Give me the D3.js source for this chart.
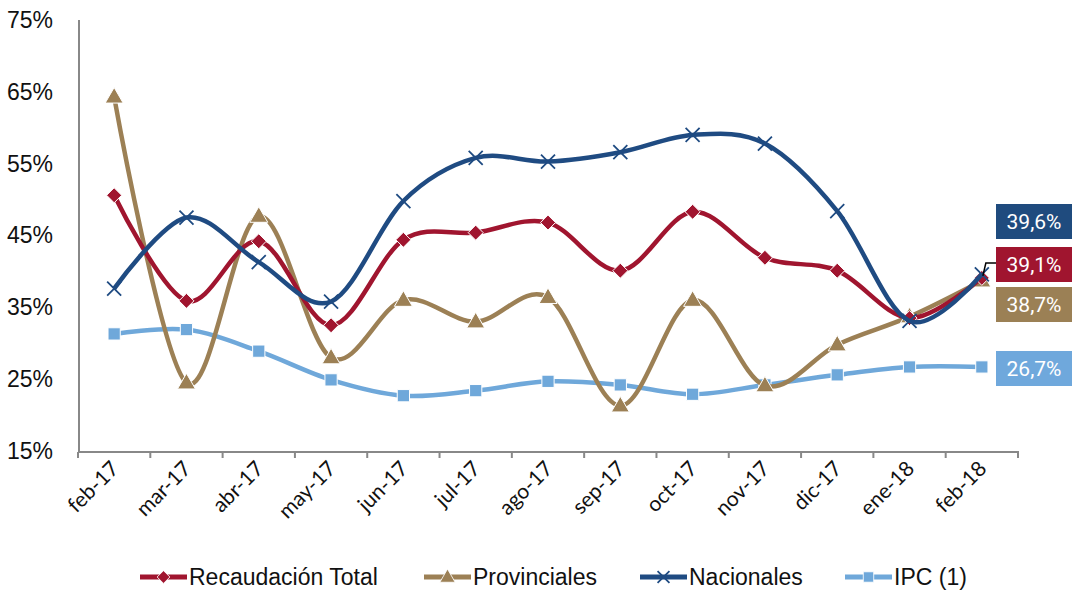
<!DOCTYPE html>
<html lang="es">
<head>
<meta charset="utf-8">
<title>Recaudación</title>
<script src="https://d3js.org/d3.v7.min.js"></script>
<style>
  body { margin: 0; background: #fff; }
  svg { display: block; }
</style>
</head>
<body>
<div id="chart"></div>
<script>
// datos (variación interanual, %)
var months = ["feb-17","mar-17","abr-17","may-17","jun-17","jul-17","ago-17","sep-17","oct-17","nov-17","dic-17","ene-18","feb-18"];
var recaudacion = [50.6, 35.9, 44.2, 32.5, 44.4, 45.4, 46.8, 40.1, 48.3, 41.9, 40.1, 33.5, 39.1];
var provinciales = [64.3, 24.5, 47.7, 28.0, 36.0, 33.0, 36.4, 21.3, 36.0, 24.1, 29.8, 33.7, 38.7];
var nacionales = [37.6, 47.5, 41.3, 35.8, 49.8, 55.8, 55.3, 56.6, 59.0, 57.8, 48.4, 33.1, 39.6];
var ipc = [31.3, 31.9, 28.9, 24.9, 22.7, 23.4, 24.7, 24.2, 22.9, 24.2, 25.6, 26.7, 26.7];
var yTicks = [15, 25, 35, 45, 55, 65, 75];
var endLabels = ["39,6%", "39,1%", "38,7%", "26,7%"];

var W = 1072, H = 594;
var svg = d3.select("#chart").append("svg").attr("width", W).attr("height", H);

var x = d3.scalePoint().domain(months).range([78, 1018]).padding(0.5);
var xb = d3.scaleBand().domain(months).range([78, 1018]);
var y = d3.scaleLinear().domain([15, 75]).range([451, 20]);

// eje y (solo etiquetas)
var gy = svg.append("g").attr("transform", "translate(53,0)")
  .call(d3.axisLeft(y).tickValues(yTicks).tickSize(0).tickPadding(0).tickFormat(function(d){ return d + "%"; }));
gy.select(".domain").remove();
gy.selectAll("text").attr("font-family", "Liberation Sans Narrow, Arial Narrow, sans-serif")
  .attr("font-size", 23).attr("fill", "#111");

svg.append("line").attr("x1", 79).attr("x2", 79).attr("y1", 20).attr("y2", 452)
  .attr("stroke", "#888").attr("stroke-width", 2);

// eje x
svg.append("line").attr("x1", 78).attr("x2", 1019).attr("y1", 452).attr("y2", 452)
  .attr("stroke", "#888").attr("stroke-width", 2);
var edges = months.map(function(m){ return xb(m); }).concat([xb.range()[1]]);
svg.selectAll(".xt").data(edges).enter().append("line")
  .attr("x1", function(d){ return d; }).attr("x2", function(d){ return d; })
  .attr("y1", 452).attr("y2", 458).attr("stroke", "#888").attr("stroke-width", 2);

svg.selectAll(".xl").data(months).enter().append("text")
  .attr("transform", function(d){ return "translate(" + (x(d) + 6) + ",470) rotate(-45)"; })
  .attr("text-anchor", "end")
  .attr("font-family", "Lato, Open Sans, sans-serif")
  .attr("font-size", 21).attr("fill", "#111")
  .text(function(d){ return d; });

var series = [
  { name: "IPC (1)", values: ipc, color: "#6FA8DA", marker: "square" },
  { name: "Provinciales", values: provinciales, color: "#9C8055", marker: "triangle" },
  { name: "Recaudación Total", values: recaudacion, color: "#A0152F", marker: "diamond" },
  { name: "Nacionales", values: nacionales, color: "#1F4B82", marker: "cross" }
];

var line = d3.line()
  .x(function(d, i){ return x(months[i]); })
  .y(function(d){ return y(d); })
  .curve(d3.curveCardinal.tension(0));

function drawMarker(g, type, color, cx, cy, k) {
  k = k || 1;
  var t = "translate(" + cx + "," + cy + ") scale(" + k + ")";
  if (type === "cross") {
    g.append("path").attr("d", "M-7,-7L7,7M-7,7L7,-7")
      .attr("transform", t)
      .attr("stroke", color).attr("stroke-width", 1.8 / k).attr("fill", "none");
  } else if (type === "diamond") {
    g.append("path").attr("d", "M0,-7.5L7.5,0L0,7.5L-7.5,0Z")
      .attr("transform", t)
      .attr("fill", color).attr("stroke", "#fff").attr("stroke-width", 1);
  } else {
    var sym = type === "square" ? d3.symbolSquare : d3.symbolTriangle;
    var size = type === "square" ? 150 : 140;
    g.append("path").attr("d", d3.symbol().type(sym).size(size)())
      .attr("transform", t + (type === "triangle" ? " translate(0,1)" : ""))
      .attr("fill", color).attr("stroke", "#fff").attr("stroke-width", 1);
  }
}

series.forEach(function(s){
  var g = svg.append("g");
  g.append("path").datum(s.values).attr("d", line)
    .attr("fill", "none").attr("stroke", s.color).attr("stroke-width", 4.5);
  s.values.forEach(function(v, i){ drawMarker(g, s.marker, s.color, x(months[i]), y(v)); });
});

// línea guía a la etiqueta de Recaudación
var lx = x("feb-18");
svg.append("path")
  .attr("d", "M" + (lx + 1) + "," + (y(39.1) - 2) + "L" + (lx + 4) + "," + 263 + "L996,263")
  .attr("fill", "none").attr("stroke", "#000").attr("stroke-width", 1.5);

// etiquetas finales
var boxes = [
  { text: endLabels[0], color: "#1F4B7E", y: 204 },
  { text: endLabels[1], color: "#A0152F", y: 247 },
  { text: endLabels[2], color: "#9B8055", y: 287 },
  { text: endLabels[3], color: "#6FA8DC", y: 351 }
];
boxes.forEach(function(b){
  svg.append("rect").attr("x", 996).attr("y", b.y).attr("width", 76).attr("height", 35).attr("fill", b.color);
  svg.append("text").attr("x", 1034).attr("y", b.y + 25).attr("text-anchor", "middle")
    .attr("font-family", "Roboto, sans-serif").attr("font-size", 21).attr("fill", "#fff").text(b.text);
});

// leyenda
var legend = [
  { name: "Recaudación Total", color: "#A0152F", marker: "diamond", x: 140 },
  { name: "Provinciales", color: "#9C8055", marker: "triangle", x: 424 },
  { name: "Nacionales", color: "#1F4B82", marker: "cross", x: 640 },
  { name: "IPC (1)", color: "#6FA8DA", marker: "square", x: 845 }
];
legend.forEach(function(l){
  var g = svg.append("g");
  g.append("line").attr("x1", l.x).attr("x2", l.x + 47).attr("y1", 577).attr("y2", 577)
    .attr("stroke", l.color).attr("stroke-width", 5);
  drawMarker(g, l.marker, l.color, l.x + 23.5, 577, 0.85);
  g.append("text").attr("x", l.x + 49).attr("y", 585)
    .attr("font-family", "Liberation Sans Narrow, Arial Narrow, sans-serif")
    .attr("font-size", 23).attr("fill", "#111").text(l.name);
});
</script>
</body>
</html>
